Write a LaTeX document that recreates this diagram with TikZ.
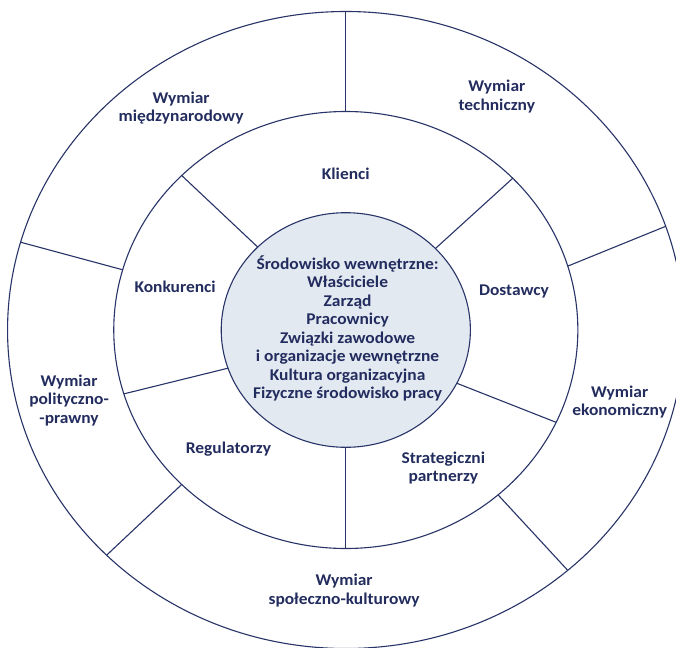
\documentclass[tikz,border=0pt]{standalone}
\usepackage{fontspec}
\setmainfont{Carlito}
\definecolor{navy}{RGB}{34,44,94}
\definecolor{linecol}{RGB}{40,52,104}
\definecolor{innerfill}{RGB}{226,233,241}
\begin{document}
\begin{tikzpicture}[x=1pt,y=1pt,
  ring/.style={circle, draw=linecol, line width=1.1pt, inner sep=0pt, outer sep=0pt},
  spoke/.style={draw=linecol, line width=1.1pt},
  lbl/.style={text=navy, font=\fontsize{16.4}{18.5}\selectfont\bfseries, align=center, inner sep=0pt}]
\clip (0,0) rectangle (676,-647);
\fill[white] (0,0) rectangle (676,-647);
\begin{scope}[shift={(345.8,-330)}, xscale=1.062, transform shape]
  \node[ring, minimum size=637pt] (outer) at (0,0) {};
  \node[ring, minimum size=437pt] (mid) at (0,0) {};
  \node[ring, fill=innerfill, minimum size=234.6pt] (inner) at (0,0) {};
  % outer ring spokes
  \draw[spoke] (outer.90) -- (mid.90);
  \draw[spoke] (outer.19.8) -- (mid.17.1);
  \draw[spoke] (outer.311) -- (mid.311.2);
  \draw[spoke] (outer.225.5) -- (mid.225.5);
  \draw[spoke] (outer.164.5) -- (mid.164.8);
  % inner ring spokes
  \draw[spoke] (mid.135) -- (inner.135);
  \draw[spoke] (mid.44.3) -- (inner.44.2);
  \draw[spoke] (mid.335.9) -- (inner.333.6);
  \draw[spoke] (mid.197.1) -- (inner.199);
  \draw[spoke] (mid.270) -- (inner.270);
  % labels
  \node[lbl] (mn) at (-155.1,221.8) {Wymiar\\międzynarodowy};
  \node[lbl] (tn) at (142.2,233.5) {Wymiar\\techniczny};
  \node[lbl] (kl) at (0,155.7) {Klienci};
  \node[lbl] (ko) at (-160.7,42.8) {Konkurenci};
  \node[lbl] (do) at (158.4,38.7) {Dostawcy};
  \node[lbl] (sw) at (1.7,1.8) {Środowisko wewnętrzne:\\Właściciele\\Zarząd\\Pracownicy\\Związki zawodowe\\i organizacje wewnętrzne\\Kultura organizacyjna\\Fizyczne środowisko pracy};
  \node[lbl] (pp) at (-260.6,-70.2) {Wymiar\\polityczno-\\-prawny};
  \node[lbl] (re) at (-110.5,-119.1) {Regulatorzy};
  \node[lbl] (sp) at (91.8,-137.9) {Strategiczni\\partnerzy};
  \node[lbl] (ek) at (257.9,-71.8) {Wymiar\\ekonomiczny};
  \node[lbl] (sk) at (-1.6,-260.3) {Wymiar\\społeczno-kulturowy};
\end{scope}
\end{tikzpicture}
\end{document}
